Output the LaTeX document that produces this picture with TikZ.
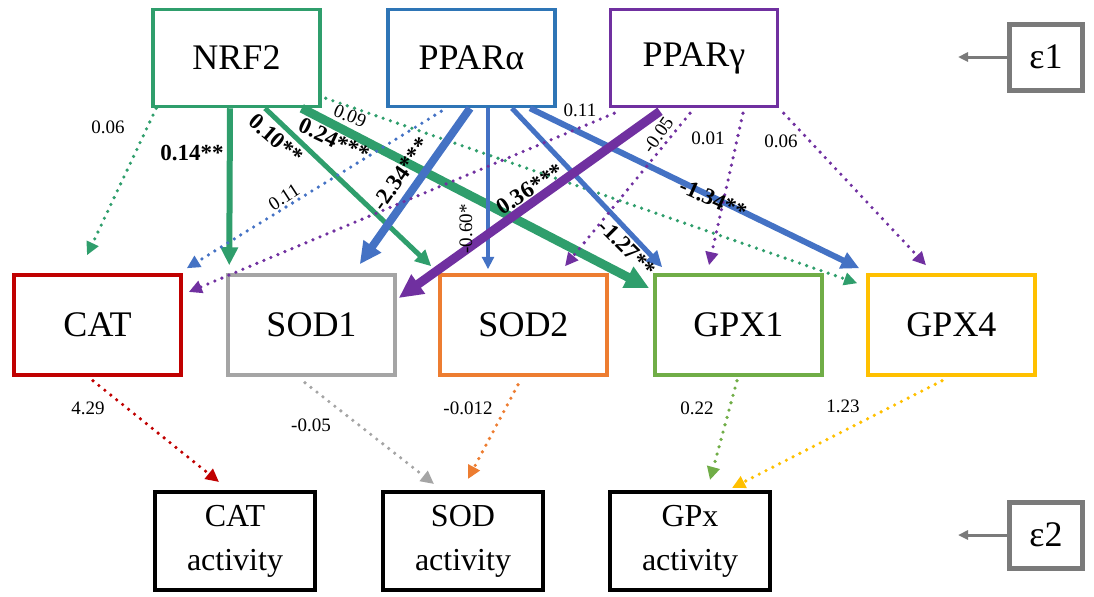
\documentclass[tikz,border=0pt]{standalone}
\usepackage{fontspec}
\setmainfont{Liberation Serif}
\usepackage{tikz}
\usetikzlibrary{arrows.meta,calc}
\definecolor{NrfGreen}{HTML}{2F9E6C}
\definecolor{PparaBlue}{HTML}{2E75B6}
\definecolor{ArrBlue}{HTML}{4472C4}
\definecolor{PpargPurple}{HTML}{7030A0}
\definecolor{CatRed}{HTML}{C00000}
\definecolor{SodGray}{HTML}{A5A5A5}
\definecolor{SodOrange}{HTML}{ED7D31}
\definecolor{GpxGreen}{HTML}{70AD47}
\definecolor{GpxYellow}{HTML}{FFC000}
\definecolor{EpsGray}{HTML}{7A7A7A}

\begin{document}
\begin{tikzpicture}[
  x=0.5pt,y=-0.5pt,
  font=\fontsize{18}{20}\selectfont,
  gene/.style={draw,line width=1.75pt,minimum width=83.5pt,minimum height=48.5pt,inner sep=0pt},
  act/.style={draw,line width=2pt,minimum width=80pt,minimum height=49pt,inner sep=0pt,
    align=center,font=\fontsize{16}{22}\selectfont},
  eps/.style={draw=EpsGray,line width=2.5pt,minimum width=36.5pt,minimum height=33pt,inner sep=0pt},
  fx/.style={-{Triangle[length=3pt 2,width=3pt 1.8]}},
  dotfx/.style={fx,line width=1.8pt,dash pattern=on 0pt off 3.8pt,line cap=round},
  lbl/.style={inner sep=0pt,font=\fontsize{9.5}{11}\selectfont},
  lblb/.style={inner sep=0pt,font=\fontsize{11.5}{13}\selectfont\bfseries}
]
  \useasboundingbox (0,0) rectangle (1094,596);

  % Transcription factors and error term.
  \node[gene,draw=NrfGreen] (NRF2) at (236.5,58) {NRF2};
  \node[gene,draw=PparaBlue] (PPARa) at (471.5,58) {PPARα};
  \node[gene,draw=PpargPurple] (PPARg) at (694,58) {PPARγ};
  \node[eps] (eps1) at (1046,57) {ε1};
  \coordinate (e1tip) at (958,57);
  \draw[EpsGray,line width=1.5pt,-{Triangle[length=5pt,width=4.5pt]}] (eps1.west)--(e1tip);

  % Antioxidant genes.
  \node[gene,minimum height=50pt,draw=CatRed] (CAT) at (97.5,325) {CAT};
  \node[gene,minimum height=50pt,draw=SodGray] (SOD1) at (311.5,325) {SOD1};
  \node[gene,minimum height=50pt,draw=SodOrange] (SOD2) at (523.5,325) {SOD2};
  \node[gene,minimum height=50pt,draw=GpxGreen] (GPX1) at (738.5,325) {GPX1};
  \node[gene,minimum height=50pt,draw=GpxYellow] (GPX4) at (951.5,325) {GPX4};

  % Enzyme activities and error term.
  \node[act] (CATact) at (235,541) {CAT\\activity};
  \node[act] (SODact) at (463,541) {SOD\\activity};
  \node[act] (GPxact) at (690,541) {GPx\\activity};
  \node[eps] (eps2) at (1046,535) {ε2};
  \coordinate (e2tip) at (958,535);
  \draw[EpsGray,line width=1.5pt,-{Triangle[length=5pt,width=4.5pt]}] (eps2.west)--(e2tip);

  % NRF2 paths.
  \draw[dotfx,NrfGreen] ($(NRF2.south west)+(5,0)$)--($(CAT.north)+(-10.5,-18)$);
  \draw[fx,NrfGreen,line width=3pt] ($(NRF2.south)+(-6.5,0)$)--($(SOD1.north west)+(3,-8)$);
  \draw[fx,NrfGreen,line width=2.5pt] ($(NRF2.south)+(28.5,0)$)--($(SOD2.north west)+(-7,-7)$);
  \draw[fx,NrfGreen,line width=4.5pt] ($(NRF2.south east)+(-20,0)$)--($(GPX1.north west)+(-4,15)$);
  \draw[dotfx,NrfGreen] ($(NRF2.south east)+(4,-10)$)--($(GPX4.north west)+(-9,10)$);

  % PPARalpha paths.
  \draw[dotfx,ArrBlue] ($(PPARa.south west)+(55,3)$)--($(CAT.north east)+(4,-5)$);
  \draw[fx,ArrBlue,line width=4pt] ($(PPARa.south)+(-1.5,0)$)--($(SOD1.north east)+(-37,-9)$);
  \draw[fx,ArrBlue,line width=1.6pt] ($(PPARa.south)+(16.5,0)$)--($(SOD2.north)+(-35.5,-4)$);
  \draw[fx,ArrBlue,line width=2.5pt] ($(PPARa.south)+(40.5,0)$)--($(GPX1.north west)+(9,-6)$);
  \draw[fx,ArrBlue,line width=3pt] ($(PPARa.south)+(58.5,0)$)--($(GPX4.north west)+(-7,-5)$);

  % PPARgamma paths.
  \draw[dotfx,PpargPurple] ($(PPARg.south west)+(5.5,5)$)--($(CAT.east)+(6,-33)$);
  \draw[fx,PpargPurple,line width=4.5pt] ($(PPARg.south)+(-34,3)$)--($(SOD1.east)+(2,-27)$);
  \draw[dotfx,PpargPurple] ($(PPARg.south)+(-4,5)$)--($(SOD2.north)+(41.5,-7)$);
  \draw[dotfx,PpargPurple] ($(PPARg.south)+(49,5)$)--($(GPX1.north)+(-29.5,-8)$);
  \draw[dotfx,PpargPurple] ($(PPARg.south east)+(4.5,5)$)--($(GPX4.north)+(-25.5,-8)$);

  % Gene to activity paths.
  \draw[dotfx,CatRed] ($(CAT.south)+(-4.5,4)$)--($(CATact.north)+(-16,-8)$);
  \draw[dotfx,SodGray] ($(SOD1.south)+(-6.5,6)$)--($(SODact.north)+(-29,-6)$);
  \draw[dotfx,SodOrange] ($(SOD2.south)+(-5.5,8)$)--($(SODact.north)+(5,-11)$);
  \draw[dotfx,GpxGreen] ($(GPX1.south)+(-1.5,4)$)--($(GPxact.north)+(20,-10)$);
  \draw[dotfx,GpxYellow] ($(GPX4.south)+(-9.5,4)$)--($(GPxact.north)+(42,-2)$);

  % Path coefficients.
  \node[lbl] (cNC) at (108,127) {0.06};
  \node[lblb] (cNS1) at (192,153) {0.14**};
  \node[lblb,rotate=-41] (cNS2) at (276,139) {0.10**};
  \node[lblb,rotate=-25] (cNG1) at (334,140) {0.24***};
  \node[lbl,rotate=-22] (cNG4) at (350,116) {0.09};
  \node[lbl,rotate=33] (cAC) at (284,197) {0.11};
  \node[lblb,rotate=55] (cAS1) at (401,174) {-2.34***};
  \node[lbl,rotate=90] (cAS2) at (466,229) {-0.60*};
  \node[lblb,rotate=32] (cGS1) at (530,189) {0.36***};
  \node[lblb,rotate=-45] (cAG1) at (627,248) {-1.27**};
  \node[lblb,rotate=-24] (cAG4) at (713,199) {-1.34**};
  \node[lbl] (cGC) at (580,110) {0.11};
  \node[lbl,rotate=55] (cGS2) at (658,135) {-0.05};
  \node[lbl] (cGG1) at (708,138) {0.01};
  \node[lbl] (cGG4) at (781,141) {0.06};
  \node[lbl] (cCat) at (88,408) {4.29};
  \node[lbl] (cSod1) at (311,425) {-0.05};
  \node[lbl] (cSod2) at (468,408) {-0.012};
  \node[lbl] (cGpx1) at (697,408) {0.22};
  \node[lbl] (cGpx4) at (843,406) {1.23};
\end{tikzpicture}
\end{document}
